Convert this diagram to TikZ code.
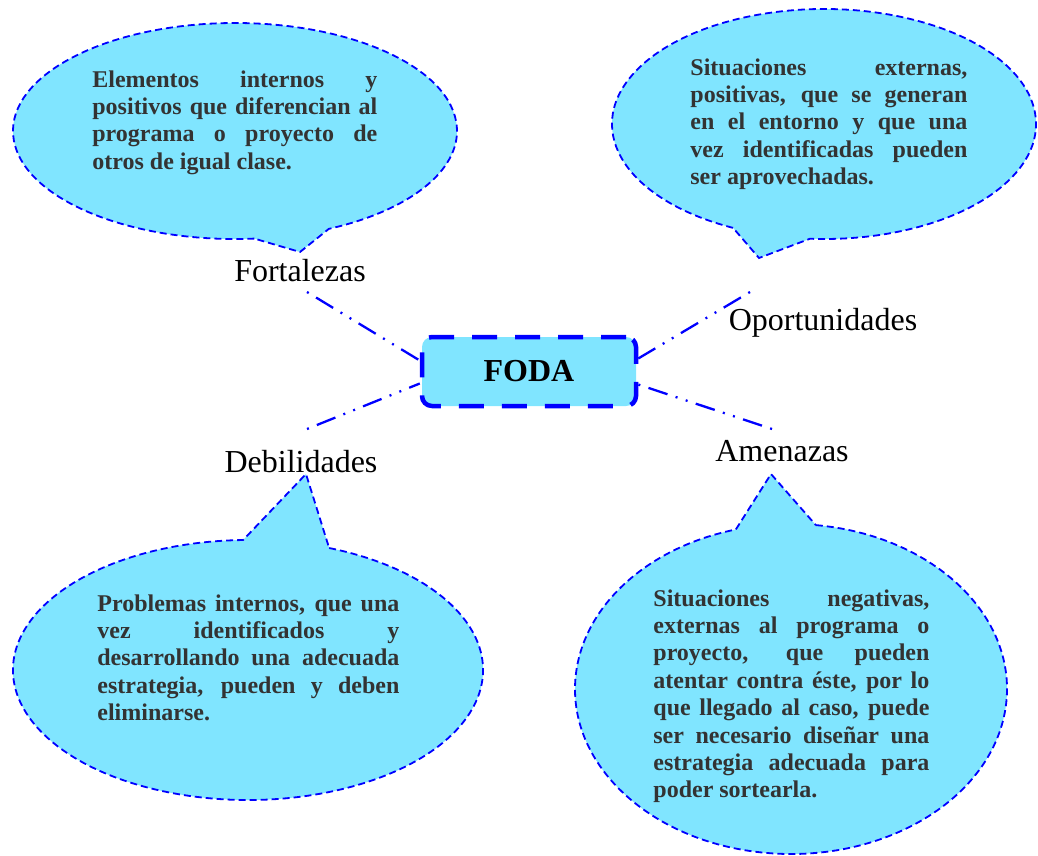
\documentclass[tikz,border=0pt]{standalone}
\usepackage{fontspec}
\setmainfont{Liberation Serif}
\usetikzlibrary{calc}
\setlength{\parindent}{0pt}
\hyphenpenalty=10000
\tolerance=10000
\pretolerance=10000
\hbadness=10000
\definecolor{bfill}{RGB}{128,229,255}
\definecolor{bline}{RGB}{0,0,255}
\definecolor{btext}{RGB}{51,51,51}
\begin{document}
\begin{tikzpicture}[x=0.5pt,y=-0.5pt,
  bubble/.style={fill=bfill,draw=bline,line width=0.9pt,dash pattern=on 3.5pt off 2pt},
  btxt/.style={anchor=north west,inner sep=0pt,align=justify,text=btext,
    font=\bfseries\fontsize{12}{13.7}\selectfont},
  lbl/.style={anchor=base,inner sep=0pt,font=\fontsize{16}{19}\selectfont},
  conn/.style={draw=bline,line width=1.15pt,
    dash pattern=on 1pt off 4.3pt on 10pt off 4.3pt on 1pt off 4.3pt},
  fodabox/.style={draw=bline,fill=bfill,line width=2.25pt,dash pattern=on 12.5pt off 9pt,
    rounded corners=5pt,minimum width=107pt,minimum height=34.5pt,inner sep=0pt,
    font=\bfseries\fontsize{16}{19}\selectfont}]
\useasboundingbox (0,0) rectangle (1038,856);

% tips of the callouts
\coordinate (ftip) at (300,252);
\coordinate (otip) at (759,258);
\coordinate (dtip) at (306,474);
\coordinate (atip) at (771,474);

% callout bubbles
\path[bubble] (235,131) ++(85:222 and 108)
  arc[start angle=85,end angle=425,x radius=222,y radius=108] -- (ftip) -- cycle;
\path[bubble] (824,124) ++(115.4:212 and 115)
  arc[start angle=115.4,end angle=453.8,x radius=212,y radius=115] -- (otip) -- cycle;
\path[bubble] (248,670) ++(290.2:235 and 130)
  arc[start angle=290.2,end angle=628.8,x radius=235,y radius=130] -- (dtip) -- cycle;
\path[bubble] (791,689) ++(276.6:216 and 165)
  arc[start angle=276.6,end angle=615.2,x radius=216,y radius=165] -- (atip) -- cycle;

% bubble texts
\node[btxt,text width=142.5pt] (ftxt) at (92,70) {Elementos internos y\linebreak positivos que diferencian al\linebreak programa o proyecto de\linebreak otros de igual clase.};
\node[btxt,text width=138.5pt] (otxt) at (690,58) {Situaciones externas,\linebreak positivas, que se generan\linebreak en el entorno y que una\linebreak vez identificadas pueden\linebreak ser aprovechadas.};
\node[btxt,text width=151pt] (dtxt) at (97,594) {Problemas internos, que una\linebreak vez identificados y\linebreak desarrollando una adecuada\linebreak estrategia, pueden y deben\linebreak eliminarse.};
\node[btxt,text width=138pt] (atxt) at (653,589) {Situaciones negativas,\linebreak externas al programa o\linebreak proyecto, que pueden\linebreak atentar contra éste, por lo\linebreak que llegado al caso, puede\linebreak ser necesario diseñar una\linebreak estrategia adecuada para\linebreak poder sortearla.};

% labels
\node[lbl] (flab) at (300,281) {Fortalezas};
\node[lbl] (olab) at (823,330) {Oportunidades};
\node[lbl] (dlab) at (301,472) {Debilidades};
\node[lbl] (alab) at (782,461) {Amenazas};

% central node
\node[fodabox] (foda) at (529,371.5) {FODA};

% connector ends
\coordinate (fend) at (307,292);
\coordinate (oend) at (750,292);
\coordinate (dend) at (307,429);
\coordinate (aend) at (772,429);
\coordinate (fw1) at ($(foda.west)+(0,-11)$);
\coordinate (fw2) at ($(foda.west)+(0,12)$);
\coordinate (fe1) at ($(foda.east)+(0,-13)$);
\coordinate (fe2) at ($(foda.east)+(0,13)$);

\draw[conn] (fend) -- (fw1);
\draw[conn] (oend) -- (fe1);
\draw[conn] (dend) -- (fw2);
\draw[conn] (aend) -- (fe2);
\end{tikzpicture}
\end{document}
